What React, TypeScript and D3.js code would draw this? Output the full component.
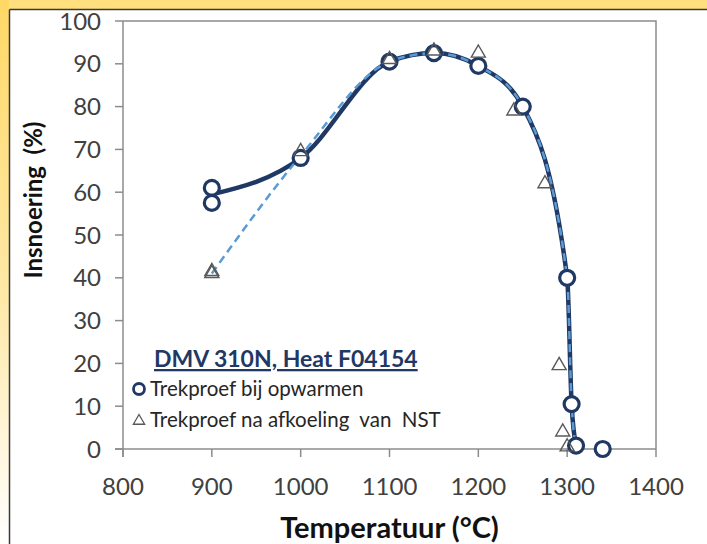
import React from 'react';
import * as d3 from 'd3';

// opwarmen (circles)
const heatT = [900, 900, 1000, 1100, 1150, 1200, 1250, 1300, 1305, 1310, 1340];
const heatV = [61, 57.5, 68, 90.5, 92.5, 89.5, 80, 40, 10.5, 0.8, 0];
// smooth line through the opwarmen points
const heatLineT = [900, 1000, 1100, 1150, 1200, 1250, 1300, 1305, 1310];
const heatLineV = [59.5, 68, 90.5, 92.5, 89.5, 80, 40, 10.5, 0.8];
// na afkoeling van NST (triangles)
const coolT = [900, 900, 1000, 1100, 1150, 1200, 1240, 1275, 1291, 1295, 1300];
const coolV = [41.5, 41, 69.5, 91, 93, 92.5, 79, 62, 19.5, 4, 0.5];
// dashed line
const coolLineT = [900, 1000, 1100, 1150, 1200, 1250, 1300, 1305, 1310];
const coolLineV = [41, 68.5, 90.5, 92.5, 89.5, 80, 40, 10.5, 0.8];

const xTicks = [800, 900, 1000, 1100, 1200, 1300, 1400];
const yTicks = [0, 10, 20, 30, 40, 50, 60, 70, 80, 90, 100];

const W = 707, H = 544;
const left = 123, right = 656, top = 21, bottom = 449;
const font = 'Lato, "Open Sans", sans-serif';

export default function App() {
  const x = d3.scaleLinear().domain([800, 1400]).range([left, right]);
  const y = d3.scaleLinear().domain([0, 100]).range([bottom, top]);

  const mk = (ts: number[], vs: number[]) =>
    d3.line<[number, number]>()
      .x(d => x(d[0]))
      .y(d => y(d[1]))
      .curve(d3.curveMonotoneX)(ts.map((t, i) => [t, vs[i]]) as [number, number][]) || '';

  const tri = d3.symbol(d3.symbolTriangle, 85)() || '';
  const axisCol = '#8c8c8c';

  return (
    <svg width={W} height={H} style={{ position: 'absolute', left: 0, top: 0 }}>
      <defs>
        <linearGradient id="lg" x1="0" y1="0" x2="0" y2="1">
          <stop offset="0" stopColor="#ffd866" />
          <stop offset="0.55" stopColor="#ffe9a8" />
          <stop offset="1" stopColor="#ffffff" />
        </linearGradient>
      </defs>
      <rect x={0} y={0} width={W} height={H} fill="#ffffff" />
      <rect x={0} y={0} width={W} height={9} fill="#ffdf7e" />
      <rect x={0} y={0} width={9} height={H} fill="url(#lg)" />
      <line x1={9.5} y1={9.5} x2={W} y2={9.5} stroke="#3a3a3a" strokeWidth={1.5} />
      <line x1={9.5} y1={9.5} x2={9.5} y2={H} stroke="#3a3a3a" strokeWidth={1.5} />

      {/* plot frame */}
      <path d={`M${left},${top}H${right}V${bottom}`} fill="none" stroke={axisCol} strokeWidth={1.5} />
      <line x1={left} y1={top} x2={left} y2={bottom + 8} stroke={axisCol} strokeWidth={1.5} />
      <line x1={left - 8} y1={bottom} x2={right} y2={bottom} stroke={axisCol} strokeWidth={1.5} />
      {yTicks.map(t => (
        <g key={'y' + t}>
          <line x1={left - 8} x2={left} y1={y(t)} y2={y(t)} stroke={axisCol} strokeWidth={1.5} />
          <text x={101} y={y(t)} dy="0.36em" textAnchor="end" fontFamily={font} fontSize={24} fill="#404040">{t}</text>
        </g>
      ))}
      {xTicks.map(t => (
        <g key={'x' + t}>
          <line x1={x(t)} x2={x(t)} y1={bottom} y2={bottom + 8} stroke={axisCol} strokeWidth={1.5} />
          <text x={x(t)} y={486} dy="0.36em" textAnchor="middle" fontFamily={font} fontSize={24} fill="#404040">{t}</text>
        </g>
      ))}

      <text transform={`translate(42,200) rotate(-90)`} textAnchor="middle" fontFamily={font} fontWeight="bold" fontSize={24} fill="#111">{'Insnoering\u00a0\u00a0(%)'}</text>
      <text x={(left + right) / 2} y={538} textAnchor="middle" fontFamily={font} fontWeight="bold" fontSize={29} fill="#111">Temperatuur (°C)</text>

      {/* lines */}
      <path d={mk(heatLineT, heatLineV)} fill="none" stroke="#1f3864" strokeWidth={4.5} />
      <path d={mk(coolLineT, coolLineV)} fill="none" stroke="#5b9bd5" strokeWidth={2.5} strokeDasharray="8,5" />

      {heatT.map((t, i) => (
        <circle key={'c' + i} cx={x(t)} cy={y(heatV[i])} r={7.5} fill="#ffffff" stroke="#1f3864" strokeWidth={3.2} />
      ))}
      {coolT.map((t, i) => (
        <path key={'t' + i} d={tri} transform={`translate(${x(t)},${y(coolV[i])})`} fill="none" stroke="#595959" strokeWidth={1.4} />
      ))}

      {/* annotation */}
      <text x={154} y={367} fontFamily={font} fontWeight="bold" fontSize={23} fill="#1f3864" textDecoration="underline">DMV 310N, Heat F04154</text>
      <circle cx={139} cy={389} r={5.5} fill="none" stroke="#1f3864" strokeWidth={2.8} />
      <text x={150} y={389} dy="0.36em" fontFamily={font} fontSize={20.5} fill="#262626">Trekproef bij opwarmen</text>
      <path d={d3.symbol(d3.symbolTriangle, 55)() || ''} transform="translate(139,421)" fill="none" stroke="#595959" strokeWidth={1.3} />
      <text x={150} y={420} dy="0.36em" fontFamily={font} fontSize={20.5} fill="#262626">{'Trekproef na afkoeling\u00a0\u00a0van\u00a0\u00a0NST'}</text>
    </svg>
  );
}
